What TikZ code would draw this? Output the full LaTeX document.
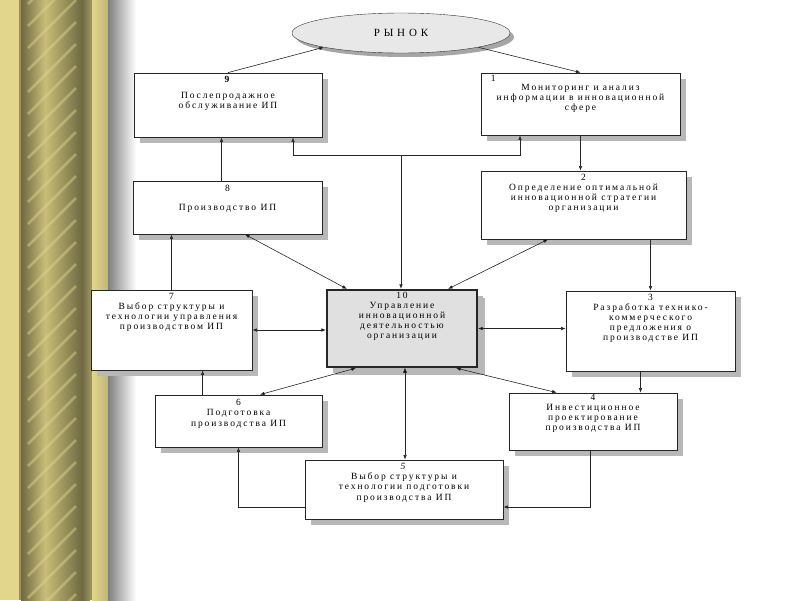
\documentclass[tikz,border=0pt]{standalone}
\usepackage{fontspec}
\setmainfont{Liberation Serif}
\newfontfamily\boxfont[LetterSpace=20]{Liberation Serif}
\newfontfamily\mktfont[LetterSpace=35]{Liberation Serif}
\usetikzlibrary{positioning,shapes.geometric,shadows,arrows.meta,calc}
\definecolor{goldL}{HTML}{E2D68C}
\definecolor{oliveD}{HTML}{6E6943}
\definecolor{oliveM}{HTML}{9A915E}
\definecolor{oliveL}{HTML}{C8BD78}

\begin{document}
\begin{tikzpicture}[x=1pt,y=-1pt,
    >={Latex[length=4.5pt,width=3.5pt]},
    box/.style={rectangle, draw=black!85, fill=white, line width=0.8pt,
        drop shadow={shadow xshift=6pt,shadow yshift=-6pt,fill=black!28,opacity=1}},
    txt/.style={align=center, inner sep=1pt, text=black,
        font=\boxfont\fontsize{9.5}{10}\selectfont},
    conn/.style={line width=0.6pt, draw=black!85}]

        % background and the gold column on the left
        \useasboundingbox (0,0) rectangle (800,600);
        \fill[white] (0,0) rectangle (800,600);
        \fill[goldL] (0,0) rectangle (19,600);
        \fill[oliveM] (19,0) rectangle (21,600);
        \shade[left color=oliveD, right color=oliveL] (21,0) rectangle (45,600);
        \shade[left color=oliveL, right color=oliveD] (45,0) rectangle (82,600);
        \shade[left color=oliveD, right color=oliveM] (82,0) rectangle (90,600);
        \fill[oliveM] (90,0) rectangle (92,600);
        \shade[left color=goldL, right color=goldL!85!black] (92,0) rectangle (108,600);
        \shade[left color=black!50, right color=white] (108,0) rectangle (136,600);
        \begin{scope}
            \clip (24,0) rectangle (82,600);
            \foreach \y in {-40,-18,...,660}
                \draw[goldL, opacity=0.45, line width=2.5pt] (28,\y) -- (76,\y-48);
        \end{scope}

        % market
        \node[ellipse, draw=black!80, fill=black!9, minimum width=218pt, minimum height=40pt,
            drop shadow={shadow xshift=4pt,shadow yshift=-4pt,fill=black!35,opacity=1},
            font=\mktfont\fontsize{11}{12}\selectfont] (m) at (401,33) {РЫНОК};

        % boxes
        \node[box, minimum width=188pt, minimum height=64pt] (9) at (228,105) {};
        \node[box, minimum width=199pt, minimum height=62pt] (1) at (580.5,104) {};
        \node[box, minimum width=189pt, minimum height=53pt] (8) at (227.5,207.5) {};
        \node[box, minimum width=205pt, minimum height=68pt] (2) at (583.5,205) {};
        \node[box, minimum width=161pt, minimum height=80pt] (7) at (171.5,330) {};
        \node[box, fill=black!12, line width=2.2pt, minimum width=150pt, minimum height=77pt,
            drop shadow={shadow xshift=8pt,shadow yshift=-8pt,fill=black!28,opacity=1}] (10) at (402,328.5) {};
        \node[box, minimum width=169pt, minimum height=80pt] (3) at (650.5,331) {};
        \node[box, minimum width=167pt, minimum height=52pt] (6) at (238.5,421) {};
        \node[box, minimum width=168pt, minimum height=57pt] (4) at (593,421.5) {};
        \node[box, minimum width=198pt, minimum height=59pt] (5) at (404,489.5) {};

        % texts
        \node[txt, below=2pt of 9.north] (t9) {\textbf{9}\\[6pt]Послепродажное\\обслуживание ИП};
        \node[txt, anchor=north west] (n1) at ([xshift=9pt,yshift=-1.5pt]1.north west) {1};
        \node[txt, below=10pt of 1.north] (t1) {Мониторинг и анализ\\информации в инновационной\\сфере};
        \node[txt, below=3pt of 8.north] (t8) {8\\[9pt]Производство ИП};
        \node[txt, below=2pt of 2.north] (t2) {2\\Определение оптимальной\\инновационной стратегии\\организации};
        \node[txt, below=2pt of 7.north] (t7) {7\\Выбор структуры и\\технологии управления\\производством ИП};
        \node[txt, below=2.5pt of 10.north] (t10) {10\\Управление\\инновационной\\деятельностью\\организации};
        \node[txt, below=2pt of 3.north] (t3) {3\\Разработка технико-\\коммерческого\\предложения о\\производстве ИП};
        \node[txt, below=3pt of 6.north] (t6) {6\\Подготовка\\[1pt]производства ИП};
        \node[txt, below=0.5pt of 4.north] (t4) {4\\Инвестиционное\\проектирование\\производства ИП};
        \node[txt, below=2pt of 5.north] (t5) {\textit{5}\\Выбор структуры и\\технологии подготовки\\[1pt]производства ИП};

        % the main chain
        \coordinate (c45) at ($(5.east)+(0,17.5)$);
        \coordinate (c56) at ($(5.west)+(0,17.5)$);
        \coordinate (c67) at ($(6.north west)+(48,0)$);
        \draw[conn,->] (9.north) -- (m.south west);
        \draw[conn,->] (m.south east) -- (1.north);
        \draw[conn,->] (1.south) -- (1.south |- 2.north);
        \draw[conn,->] (3.north |- 2.south) -- (3.north);
        \draw[conn,->] ([xshift=-10pt]3.south) -- ([xshift=-10pt]3.south |- 4.north);
        \draw[conn,->] ([xshift=-3pt]4.south) |- (c45);
        \draw[conn,->] (c56) -| (6.south);
        \draw[conn,->] (c67) -- (c67 |- 7.south);
        \draw[conn,->] (7.north) -- (7.north |- 8.south);
        \draw[conn,->] ([xshift=-6pt]8.north) -- ([xshift=-6pt]8.north |- 9.south);

        % from the centre upwards
        \coordinate (j) at (401,155);
        \draw[conn,->] (j) -- (j |- 10.north);
        \draw[conn,->] (j) -| ($(9.south)+(65,0)$);
        \draw[conn,->] (j) -| ($(1.south)+(-60.5,0)$);

        % links of box 10 with the others
        \path[conn, <->]
        ($(8.south)+(17.5,0)$) edge ($(10.north west)+(21,0)$)
        ($(2.south)+(-35.5,0)$) edge ($(10.north east)+(-30,0)$)
        (7.east) edge (7.east -| 10.west)
        (10.east) edge (10.east -| 3.west)
        ($(10.south west)+(30,0)$) edge ($(6.north)+(21.5,0)$)
        ($(10.south east)+(-22,0)$) edge ($(4.north west)+(48,0)$)
        ([xshift=3pt]10.south) edge ([xshift=3pt]10.south |- 5.north);
    \end{tikzpicture}
\end{document}
